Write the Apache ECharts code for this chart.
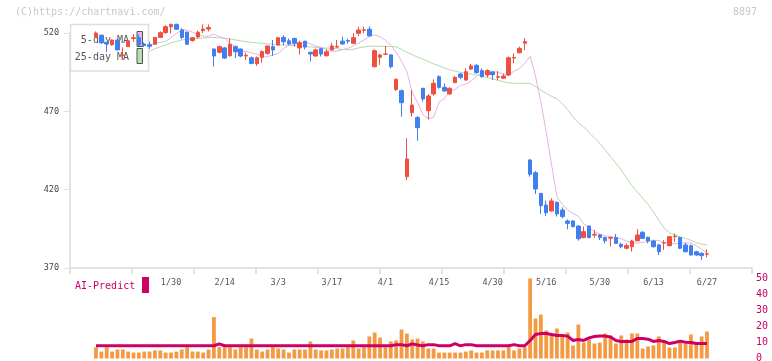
<!DOCTYPE html>
<html><head><meta charset="utf-8">
<script src="https://cdn.jsdelivr.net/npm/echarts/dist/echarts.min.js"></script>
<style>html,body{margin:0;padding:0;background:#fff}#c{width:772px;height:361px}</style>
</head><body><div id="c"></div>
<script>
const dates = ["1/9","1/10","1/14","1/15","1/16","1/17","1/20","1/21","1/22","1/23","1/24","1/27","1/28","1/29","1/30","1/31",
"2/3","2/4","2/5","2/6","2/7","2/10","2/12","2/13","2/14","2/17","2/18","2/19","2/20","2/21","2/25","2/26","2/27","2/28",
"3/3","3/4","3/5","3/6","3/7","3/10","3/11","3/12","3/13","3/14","3/17","3/18","3/19","3/21","3/24","3/25","3/26","3/27","3/28","3/31",
"4/1","4/2","4/3","4/4","4/7","4/8","4/9","4/10","4/11","4/14","4/15","4/16","4/17","4/18","4/21","4/22","4/23","4/24","4/25","4/28","4/30",
"5/1","5/2","5/7","5/8","5/9","5/12","5/13","5/14","5/15","5/16","5/19","5/20","5/21","5/22","5/23","5/26","5/27","5/28","5/29","5/30",
"6/2","6/3","6/4","6/5","6/6","6/9","6/10","6/11","6/12","6/13","6/16","6/17","6/18","6/19","6/20","6/23","6/24","6/25","6/26","6/27"];

const opens = [517.5,518.6,514,512.5,515.5,505.5,511.3,516.5,517,513,512.5,512.8,517.2,520.2,524,525.5,522,520.5,515.2,517.5,
521.5,522.5,509.8,507.7,510.5,505.5,511.3,509.8,505.3,504.2,500.4,504.5,507,511.3,512.3,517.2,515,516.5,510.5,514.8,
507.7,505.3,510,505.5,509.2,511,514.8,515.2,513.4,519.8,521.7,522.4,498.5,504.5,506.5,506,484,483.2,428.3,469.1,
466,484.7,470.4,481.1,492.1,485.3,481.1,488.3,493.8,490,497,499.4,496,493.2,495.1,491.8,491.1,493.2,504,507.4,
513.5,438.9,430.8,417.6,410.2,406.4,411.9,407,400,400,396.8,389.4,396.8,391,391.1,389.4,389,389.4,385.1,382.6,
383.6,387.4,392.8,389.6,387.2,384.7,386,384.2,390,389.4,384.7,384.2,380.4,379.4,378.8];
const closes = [520,513.8,513,515.5,509.2,506,515,517,512.3,512,511.5,517.2,520.2,524,525.5,522.4,517.2,512.8,517,520.5,
522.5,523.5,505.3,511.3,504,512.8,508,505.3,505.8,500.6,504.2,508.1,511.7,509.2,517,514.4,513,513.4,513.8,511,
506.6,509.2,506.6,508,511.7,511.5,513,514.8,517,521.9,522,518.2,508.7,506,506.6,498.5,490.4,475.5,439.6,474,
459.6,477.9,479.8,487.9,485.3,483,484.7,491.7,491.7,495.3,498.9,494.7,492.1,496,493.4,492.1,492.5,504.2,504.4,510.2,
514.5,429.8,420.4,409.8,405.3,412.8,404.5,402.8,398.5,396.4,388.7,393.2,389.4,391.5,389.4,387.4,389.4,385.7,383.6,384.3,
387.2,391.1,388.9,387.2,383.6,380.4,386.2,390,390.3,382.6,380.4,378.3,378.3,377.9,379];
const lows = [517,513,507.7,512,509,502.8,511,514.5,511.5,511,509.8,512.5,517,519.5,519.8,522,516,512.5,514.5,516.5,
520,521,498.5,507,503.5,505,504,504.5,502.8,500,499,501,506,505.3,512,512.3,512.3,511.3,506.2,509.5,
502,505,505,505,509,510.5,512.5,513.2,513,518,519.8,517.5,498,499.6,506,497.5,483,466.6,426.2,466.6,
451.2,476.2,464.8,480,484.5,482.5,480.5,488,490.5,489.5,496.5,494,491.5,491.7,490,490,490.8,492.5,500.6,507,
509.1,428.3,417.2,404.5,403.2,406,402.8,401.7,394.7,396,387.4,389,389,389.4,387.8,385.7,383.6,385.5,382.6,381.9,
380.4,387,388.5,385.7,383,378.3,381.5,384,386.8,382,380,378,377.8,375.1,376.8];
const highs = [521,519,514.5,516,516,510.7,515.5,519.3,519,514,514.5,517.5,521,525,526,526,523,521,517.5,521.5,
525.5,525.5,510,512,511,516.5,512,510,507.5,505,505,509,512,515.5,517.5,518.6,516.5,517,515,515,
508,510,510.5,509.5,513.8,515.5,517.6,516.5,519.8,524,524,524.3,509.5,506.5,511.7,506.5,491,484,452.8,483.6,
467,485,481,490.4,493,487.9,485.3,492.5,494.5,497.4,500.2,500,497.4,496.8,495.5,495.7,494,505,507,511.3,
516.6,439.6,431.9,418,413,414.5,412.5,408.7,401,400.5,397,396.4,397,394.2,391.5,390,390,391.7,386.2,385.7,
388,394.9,393.5,390,388,385.5,387.8,390.5,392.1,390,386.2,385,381,380,381.9];

const ma5 = [null,null,null,null,null,null,null,null,null,511.9,512.5,513.6,514.0,514.6,517.0,519.7,521.9,521.9,520.4,519.0,
518.0,518.0,519.3,517.8,516.6,513.3,511.4,508.3,508.3,507.2,506.5,504.8,504.8,506.1,506.8,510.0,512.1,513.1,513.4,514.3,
513.1,511.6,510.8,509.4,508.3,508.4,509.4,510.2,511.8,513.6,515.6,517.7,518.8,517.6,515.4,512.3,507.6,502.0,495.4,482.1,
475.6,467.8,465.3,466.2,475.8,478.1,482.8,484.1,486.5,487.3,489.3,492.5,494.5,494.5,495.4,495.0,493.7,493.2,495.6,497.3,
500.7,505.2,492.6,475.9,456.9,436.0,415.6,410.6,407.0,404.8,403.0,398.2,395.9,393.2,391.8,390.4,390.2,389.4,388.7,387.1,
386.1,386.0,386.4,387.0,387.7,387.6,386.2,385.3,385.5,386.1,385.9,385.9,384.3,382.0,379.5];
const ma25 = [null,null,null,null,null,null,null,null,null,507.5,508.5,510,511.2,512.5,513.7,514.6,515.5,516.1,516.3,516.6,
516.8,517.1,517.1,516.9,516.7,516.2,515.6,515,514.5,514,513.7,513.4,513.1,512.8,512.5,512.3,512.1,511.9,511.7,511.4,
511.1,510.8,510.6,510.4,510.2,509.9,509.5,509.2,509.6,510.5,511.1,511.6,511.6,511.5,511.4,511.4,511.2,509.5,507.7,506.1,
504.6,503.3,501.8,500.3,499,497.7,496.4,495.7,494.9,494.4,493.8,493.2,492.4,491.5,490.7,489.8,488.9,488.2,487.9,487.9,
487.9,487.9,485.8,483.6,481.5,479.6,478,475,471,466.5,462.5,460,456.5,453,449.6,445.5,441,437,432.5,427.5,
422.5,418.5,414.7,410.5,406,400.5,395.5,392.5,391.2,389.8,388.9,387.7,386.2,385.3,384.7];

const volume = [7.0,4.3,7.0,4.3,5.6,5.6,4.3,3.7,3.7,4.3,4.3,5.0,5.0,3.7,3.7,4.3,5.6,7.0,4.3,4.3,
3.7,5.6,25.7,7.0,7.0,7.0,5.6,7.0,7.0,12.4,5.6,4.3,5.6,7.0,6.2,5.6,3.7,5.6,5.6,5.6,
10.6,5.6,5.0,5.0,5.6,6.2,6.2,7.0,11.2,6.2,7.0,13.7,16.1,13.0,7.0,10.6,11.2,18.0,15.5,11.8,
12.4,10.6,6.2,6.2,3.7,3.7,3.7,3.7,3.7,4.3,5.0,3.7,3.7,5.0,5.0,5.0,5.0,7.0,5.0,6.2,
7.0,49.7,24.8,27.3,17.4,15.5,18.6,14.9,16.1,8.1,21.1,9.9,11.8,9.3,9.9,15.5,14.3,9.3,14.3,11.8,
15.5,15.5,6.2,7.5,8.1,13.7,11.2,6.8,6.8,11.2,9.3,14.9,9.3,13.7,16.8];
const aiPredict = [7.9,7.9,7.9,7.9,7.9,7.9,7.9,7.9,7.9,7.9,7.9,7.9,7.9,7.9,7.9,7.9,7.9,7.9,7.9,7.9,
7.9,7.9,7.9,9.1,7.9,7.9,7.9,7.9,7.9,7.9,7.9,7.9,7.9,7.9,7.9,7.9,7.9,7.9,7.9,7.9,
7.9,7.9,7.9,7.9,7.9,7.9,7.9,7.9,7.9,7.9,7.9,7.9,7.9,7.9,7.9,7.9,8.6,8.6,7.9,9.1,
8.4,7.9,8.6,8.6,7.9,7.9,7.9,9.2,7.9,8.6,8.6,7.9,7.9,7.9,7.9,7.9,7.9,7.9,8.6,7.9,
7.9,11.2,14.9,15.5,15.5,14.9,14.3,14.3,13.9,11.2,11.8,11.2,12.8,13.7,13.9,13.9,13.3,11.2,10.6,10.6,
10.6,12.4,12.4,12.0,10.6,11.2,10.6,9.3,9.9,10.8,10.1,9.9,9.3,9.3,9.3];

const priceTicks = [370, 420, 470, 520];
const volumeTicks = [0, 10, 20, 30, 40, 50];

const MONO = '"DejaVu Sans Mono", "Liberation Mono", monospace';
const UP = '#ef4f3f', DOWN = '#3f7ff0';
const AXIS = '#e2e2e2';

const candles = dates.map((d, i) => [opens[i], closes[i], lows[i], highs[i]]);

const chart = echarts.init(document.getElementById('c'), null, {renderer: 'canvas'});
chart.setOption({
  animation: false,
  backgroundColor: '#ffffff',
  grid: [
    {left: 70, right: 20, top: 33, bottom: 93, outerBoundsMode: 'none', containLabel: false},
    {left: 96, right: 65, top: 33, bottom: 93, outerBoundsMode: 'none', containLabel: false},
    {left: 96, right: 65, top: 278, bottom: 2.5, outerBoundsMode: 'none', containLabel: false}
  ],
  xAxis: [
    {gridIndex: 0, type: 'value', min: 0, max: 11, interval: 1,
     axisLine: {show: true, lineStyle: {color: AXIS, width: 2}},
     axisTick: {show: true, length: 6, lineStyle: {color: AXIS, width: 2}},
     axisLabel: {show: false}, splitLine: {show: false}},
    {gridIndex: 1, type: 'category', data: dates, boundaryGap: false,
     axisLine: {show: false}, axisTick: {show: false}, splitLine: {show: false},
     axisLabel: {show: true, interval: (idx) => idx >= 14 && (idx - 14) % 10 === 0,
       margin: 10, color: '#555', fontSize: 8.5, fontFamily: MONO, hideOverlap: false}},
    {gridIndex: 2, type: 'category', data: dates, boundaryGap: false, show: false}
  ],
  yAxis: [
    {gridIndex: 0, type: 'value', min: priceTicks[0], max: priceTicks[priceTicks.length - 1],
     interval: priceTicks[1] - priceTicks[0],
     axisLine: {show: true, lineStyle: {color: AXIS, width: 2}},
     axisTick: {show: true, length: 6, lineStyle: {color: AXIS, width: 1}},
     axisLabel: {show: true, margin: 11, color: '#444', fontSize: 8.5, fontFamily: MONO},
     splitLine: {show: false}},
    {gridIndex: 1, type: 'value', min: priceTicks[0], max: priceTicks[priceTicks.length - 1], show: false, splitLine: {show: false}},
    {gridIndex: 2, type: 'value', min: volumeTicks[0], max: volumeTicks[volumeTicks.length - 1],
     interval: volumeTicks[1] - volumeTicks[0], position: 'right', offset: 45,
     axisLine: {show: false}, axisTick: {show: false}, splitLine: {show: false},
     axisLabel: {show: true, margin: 4, color: '#cc0066', fontSize: 10, fontFamily: MONO}}
  ],
  graphic: {elements: [
    {type: 'text', z: 0, x: 15, y: 12.5, style: {text: '(C)https://chartnavi.com/', fill: '#c8c8c8', font: '10px ' + MONO, verticalAlign: 'middle'}},
    {type: 'text', z: 0, x: 757, y: 12.5, style: {text: '8897', fill: '#c8c8c8', font: '10px ' + MONO, align: 'right', verticalAlign: 'middle'}},
    {type: 'rect', z: 2, shape: {x: 70.5, y: 24.5, width: 78, height: 46.5},
     style: {fill: '#ffffff', stroke: '#dedede', lineWidth: 1.5}},
    {type: 'text', z: 2, x: 129, y: 40, style: {text: '5-day MA', fill: '#555', font: '10px ' + MONO, align: 'right', verticalAlign: 'middle'}},
    {type: 'text', z: 2, x: 129, y: 57, style: {text: '25-day MA', fill: '#555', font: '10px ' + MONO, align: 'right', verticalAlign: 'middle'}},
    {type: 'rect', z: 2, shape: {x: 137, y: 31.5, width: 5.5, height: 15}, style: {fill: '#e6b8e6', stroke: '#555', lineWidth: 1}},
    {type: 'rect', z: 2, shape: {x: 137, y: 48.5, width: 5.5, height: 15}, style: {fill: '#bcdcb2', stroke: '#555', lineWidth: 1}},
    {type: 'text', z: 2, x: 75, y: 286, style: {text: 'AI-Predict', fill: '#cc0066', font: '10px ' + MONO, verticalAlign: 'middle'}},
    {type: 'rect', z: 2, shape: {x: 142, y: 277, width: 7, height: 16}, style: {fill: '#cc0066'}}
  ]},
  series: [
    {name: '25-day MA', type: 'line', xAxisIndex: 1, yAxisIndex: 1, data: ma25, z: 1, clip: false,
     symbol: 'none', lineStyle: {color: '#b3daa8', width: 1}, connectNulls: false},
    {name: '5-day MA', type: 'line', xAxisIndex: 1, yAxisIndex: 1, data: ma5, z: 1, clip: false,
     symbol: 'none', lineStyle: {color: '#e8b0e8', width: 1}, connectNulls: false},
    {name: 'price', type: 'candlestick', xAxisIndex: 1, yAxisIndex: 1, data: candles, z: 3, clip: false,
     barWidth: 4,
     itemStyle: {color: UP, color0: DOWN, borderColor: UP, borderColor0: DOWN, borderWidth: 1}},
    {name: 'volume', type: 'bar', xAxisIndex: 2, yAxisIndex: 2, data: volume, barWidth: 3.8, z: 2,
     itemStyle: {color: '#f39a43'}},
    {name: 'AI-Predict', type: 'line', xAxisIndex: 2, yAxisIndex: 2, data: aiPredict, z: 3,
     symbol: 'none', lineStyle: {color: '#cc0066', width: 3}}
  ]
});
</script>
</body></html>
